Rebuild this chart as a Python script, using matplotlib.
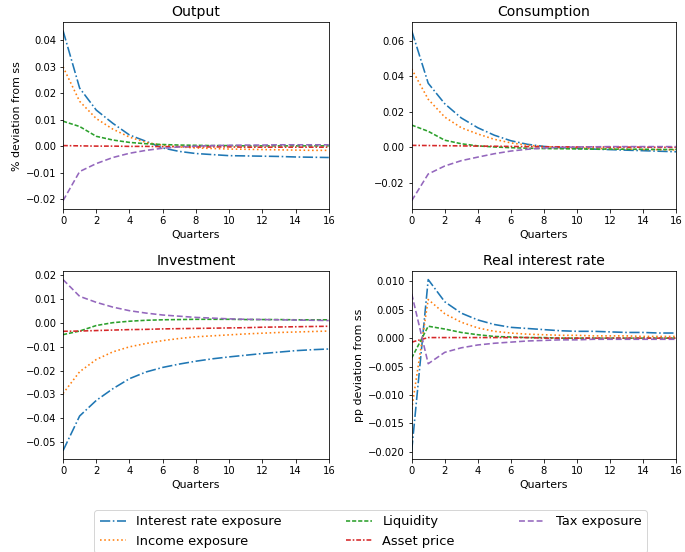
"""
Impulse responses by channel: output, consumption, investment and the real rate.
"""

import numpy as np
import matplotlib
matplotlib.use('Agg')  # Use non-interactive backend
import matplotlib.pyplot as plt

# Horizon in quarters
quarters = np.arange(17)

channels = ["Interest rate exposure", "Income exposure", "Liquidity",
            "Asset price", "Tax exposure"]

# Output (% deviation from ss)
output_ir = [0.0437, 0.022, 0.0137, 0.0087, 0.0043, 0.0019, -0.0006, -0.0019, -0.0027,
             -0.0031, -0.0035, -0.0036, -0.0037, -0.0038, -0.0040, -0.0041, -0.0042]
output_inc = [0.030, 0.017, 0.0105, 0.0065, 0.0035, 0.0015, 0.0004, -0.0002, -0.0006,
              -0.0008, -0.0010, -0.0011, -0.0012, -0.0013, -0.0014, -0.0015, -0.0015]
output_liq = [0.0095, 0.0075, 0.0038, 0.0024, 0.0015, 0.0010, 0.0007, 0.0005, 0.0004,
              0.0003, 0.0003, 0.0002, 0.0002, 0.0002, 0.0002, 0.0002, 0.0002]
output_asset = [0.0003, 0.0002, 0.0001, 0.0001, 0.0, 0.0, -0.0001, -0.0001, -0.0002,
                -0.0002, -0.0002, -0.0003, -0.0003, -0.0003, -0.0003, -0.0003, -0.0003]
output_tax = [-0.0205, -0.0095, -0.0065, -0.0042, -0.0026, -0.0015, -0.0007, -0.0002, 0.0001,
              0.0003, 0.0004, 0.0005, 0.0005, 0.0006, 0.0006, 0.0006, 0.0006]

# Consumption (% deviation from ss)
cons_ir = [0.0656, 0.036, 0.0245, 0.0165, 0.011, 0.0068, 0.0037, 0.0017, 0.0005,
           -0.0002, -0.0006, -0.0010, -0.0013, -0.0016, -0.0019, -0.0022, -0.0025]
cons_inc = [0.044, 0.027, 0.017, 0.011, 0.0075, 0.0045, 0.0025, 0.0012, 0.0004,
            -0.0001, -0.0004, -0.0006, -0.0008, -0.0010, -0.0012, -0.0013, -0.0015]
cons_liq = [0.0125, 0.009, 0.004, 0.002, 0.0008, 0.0002, -0.0002, -0.0005, -0.0007,
            -0.0008, -0.0009, -0.0010, -0.0010, -0.0011, -0.0011, -0.0012, -0.0012]
cons_asset = [0.0011, 0.0010, 0.0009, 0.0008, 0.0007, 0.0006, 0.0005, 0.0004, 0.0003,
              0.0003, 0.0002, 0.0002, 0.0001, 0.0001, 0.0001, 0.0, 0.0]
cons_tax = [-0.030, -0.015, -0.0105, -0.0075, -0.0055, -0.0036, -0.0021, -0.0011, -0.0004,
            0.0, 0.0002, 0.0003, 0.0004, 0.0004, 0.0004, 0.0004, 0.0004]

# Investment (% deviation from ss)
inv_ir = [-0.0535, -0.039, -0.0325, -0.0276, -0.0234, -0.0206, -0.0187, -0.0173, -0.0161,
          -0.0151, -0.0143, -0.0136, -0.0129, -0.0123, -0.0117, -0.0113, -0.0110]
inv_inc = [-0.0296, -0.0205, -0.0154, -0.0122, -0.0101, -0.0087, -0.0075, -0.0066, -0.0059,
           -0.0055, -0.0051, -0.0047, -0.0044, -0.0041, -0.0039, -0.0037, -0.0035]
inv_liq = [-0.005, -0.0035, -0.0012, 0.0, 0.0006, 0.0010, 0.0012, 0.0013, 0.0014,
           0.0014, 0.0014, 0.0013, 0.0013, 0.0013, 0.0012, 0.0012, 0.0012]
inv_asset = [-0.0036, -0.0035, -0.0033, -0.0031, -0.0029, -0.0028, -0.0026, -0.0025, -0.0024,
             -0.0023, -0.0022, -0.0021, -0.0019, -0.0018, -0.0017, -0.0016, -0.0015]
inv_tax = [0.018, 0.011, 0.0085, 0.0065, 0.005, 0.004, 0.0032, 0.0027, 0.0022,
           0.0019, 0.0016, 0.0014, 0.0013, 0.0012, 0.0011, 0.0010, 0.0009]

# Real interest rate (pp deviation from ss)
rate_ir = [-0.0198, 0.0103, 0.0064, 0.0044, 0.0032, 0.0024, 0.0019, 0.0017, 0.0015,
           0.0013, 0.0012, 0.0012, 0.0011, 0.0010, 0.0010, 0.0009, 0.0009]
rate_inc = [-0.0125, 0.0068, 0.0043, 0.0028, 0.0018, 0.0012, 0.0009, 0.0007, 0.0006,
            0.0005, 0.0005, 0.0004, 0.0004, 0.0004, 0.0003, 0.0003, 0.0003]
rate_liq = [-0.0035, 0.0021, 0.0016, 0.0010, 0.0006, 0.0003, 0.0002, 0.0001, 0.0001,
            0.0, 0.0, 0.0, 0.0, 0.0, 0.0, 0.0, 0.0]
rate_asset = [-0.0007, 0.0001, 0.0001, 0.0001, 0.0001, 0.0001, 0.0001, 0.0001, 0.0,
              0.0, 0.0, 0.0, 0.0, 0.0, 0.0, 0.0, 0.0]
rate_tax = [0.0078, -0.0045, -0.0025, -0.0017, -0.0012, -0.0009, -0.0007, -0.0005, -0.0004,
            -0.0003, -0.0003, -0.0002, -0.0002, -0.0002, -0.0002, -0.0002, -0.0002]

panels = [
    ("Output", "% deviation from ss",
     [output_ir, output_inc, output_liq, output_asset, output_tax]),
    ("Consumption", None, [cons_ir, cons_inc, cons_liq, cons_asset, cons_tax]),
    ("Investment", None, [inv_ir, inv_inc, inv_liq, inv_asset, inv_tax]),
    ("Real interest rate", "pp deviation from ss",
     [rate_ir, rate_inc, rate_liq, rate_asset, rate_tax]),
]

colors = ["tab:blue", "tab:orange", "tab:green", "tab:red", "tab:purple"]
styles = ["-.", ":", (0, (2.6, 1.2)), (0, (3, 1.2, 1, 1.2)), (0, (3.7, 1.8))]

# Axes boxes in figure fractions: [left, bottom, width, height]
boxes = [
    [0.092, 0.621, 0.388, 0.339],
    [0.601, 0.621, 0.386, 0.339],
    [0.092, 0.168, 0.388, 0.341],
    [0.601, 0.168, 0.386, 0.341],
]

fig = plt.figure(figsize=(685 / 72, 552 / 72), dpi=72)

for (title, ylabel, series), box in zip(panels, boxes):
    ax = fig.add_axes(box)
    for vals, name, c, ls in zip(series, channels, colors, styles):
        ax.plot(quarters, vals, color=c, linestyle=ls, linewidth=1.6, label=name)
    ax.set_xlim(0, 16)
    ax.set_xticks(np.arange(0, 17, 2))
    ax.set_title(title, fontsize=14)
    ax.set_xlabel("Quarters", fontsize=11)
    if ylabel:
        ax.set_ylabel(ylabel, fontsize=11)
    ax.tick_params(labelsize=10)

handles, labels = ax.get_legend_handles_labels()
fig.legend(handles, labels, loc='upper center', bbox_to_anchor=(0.541, 0.088),
           ncol=3, fontsize=13, columnspacing=4.95)

fig.savefig('out.png', dpi=72)
plt.close(fig)
